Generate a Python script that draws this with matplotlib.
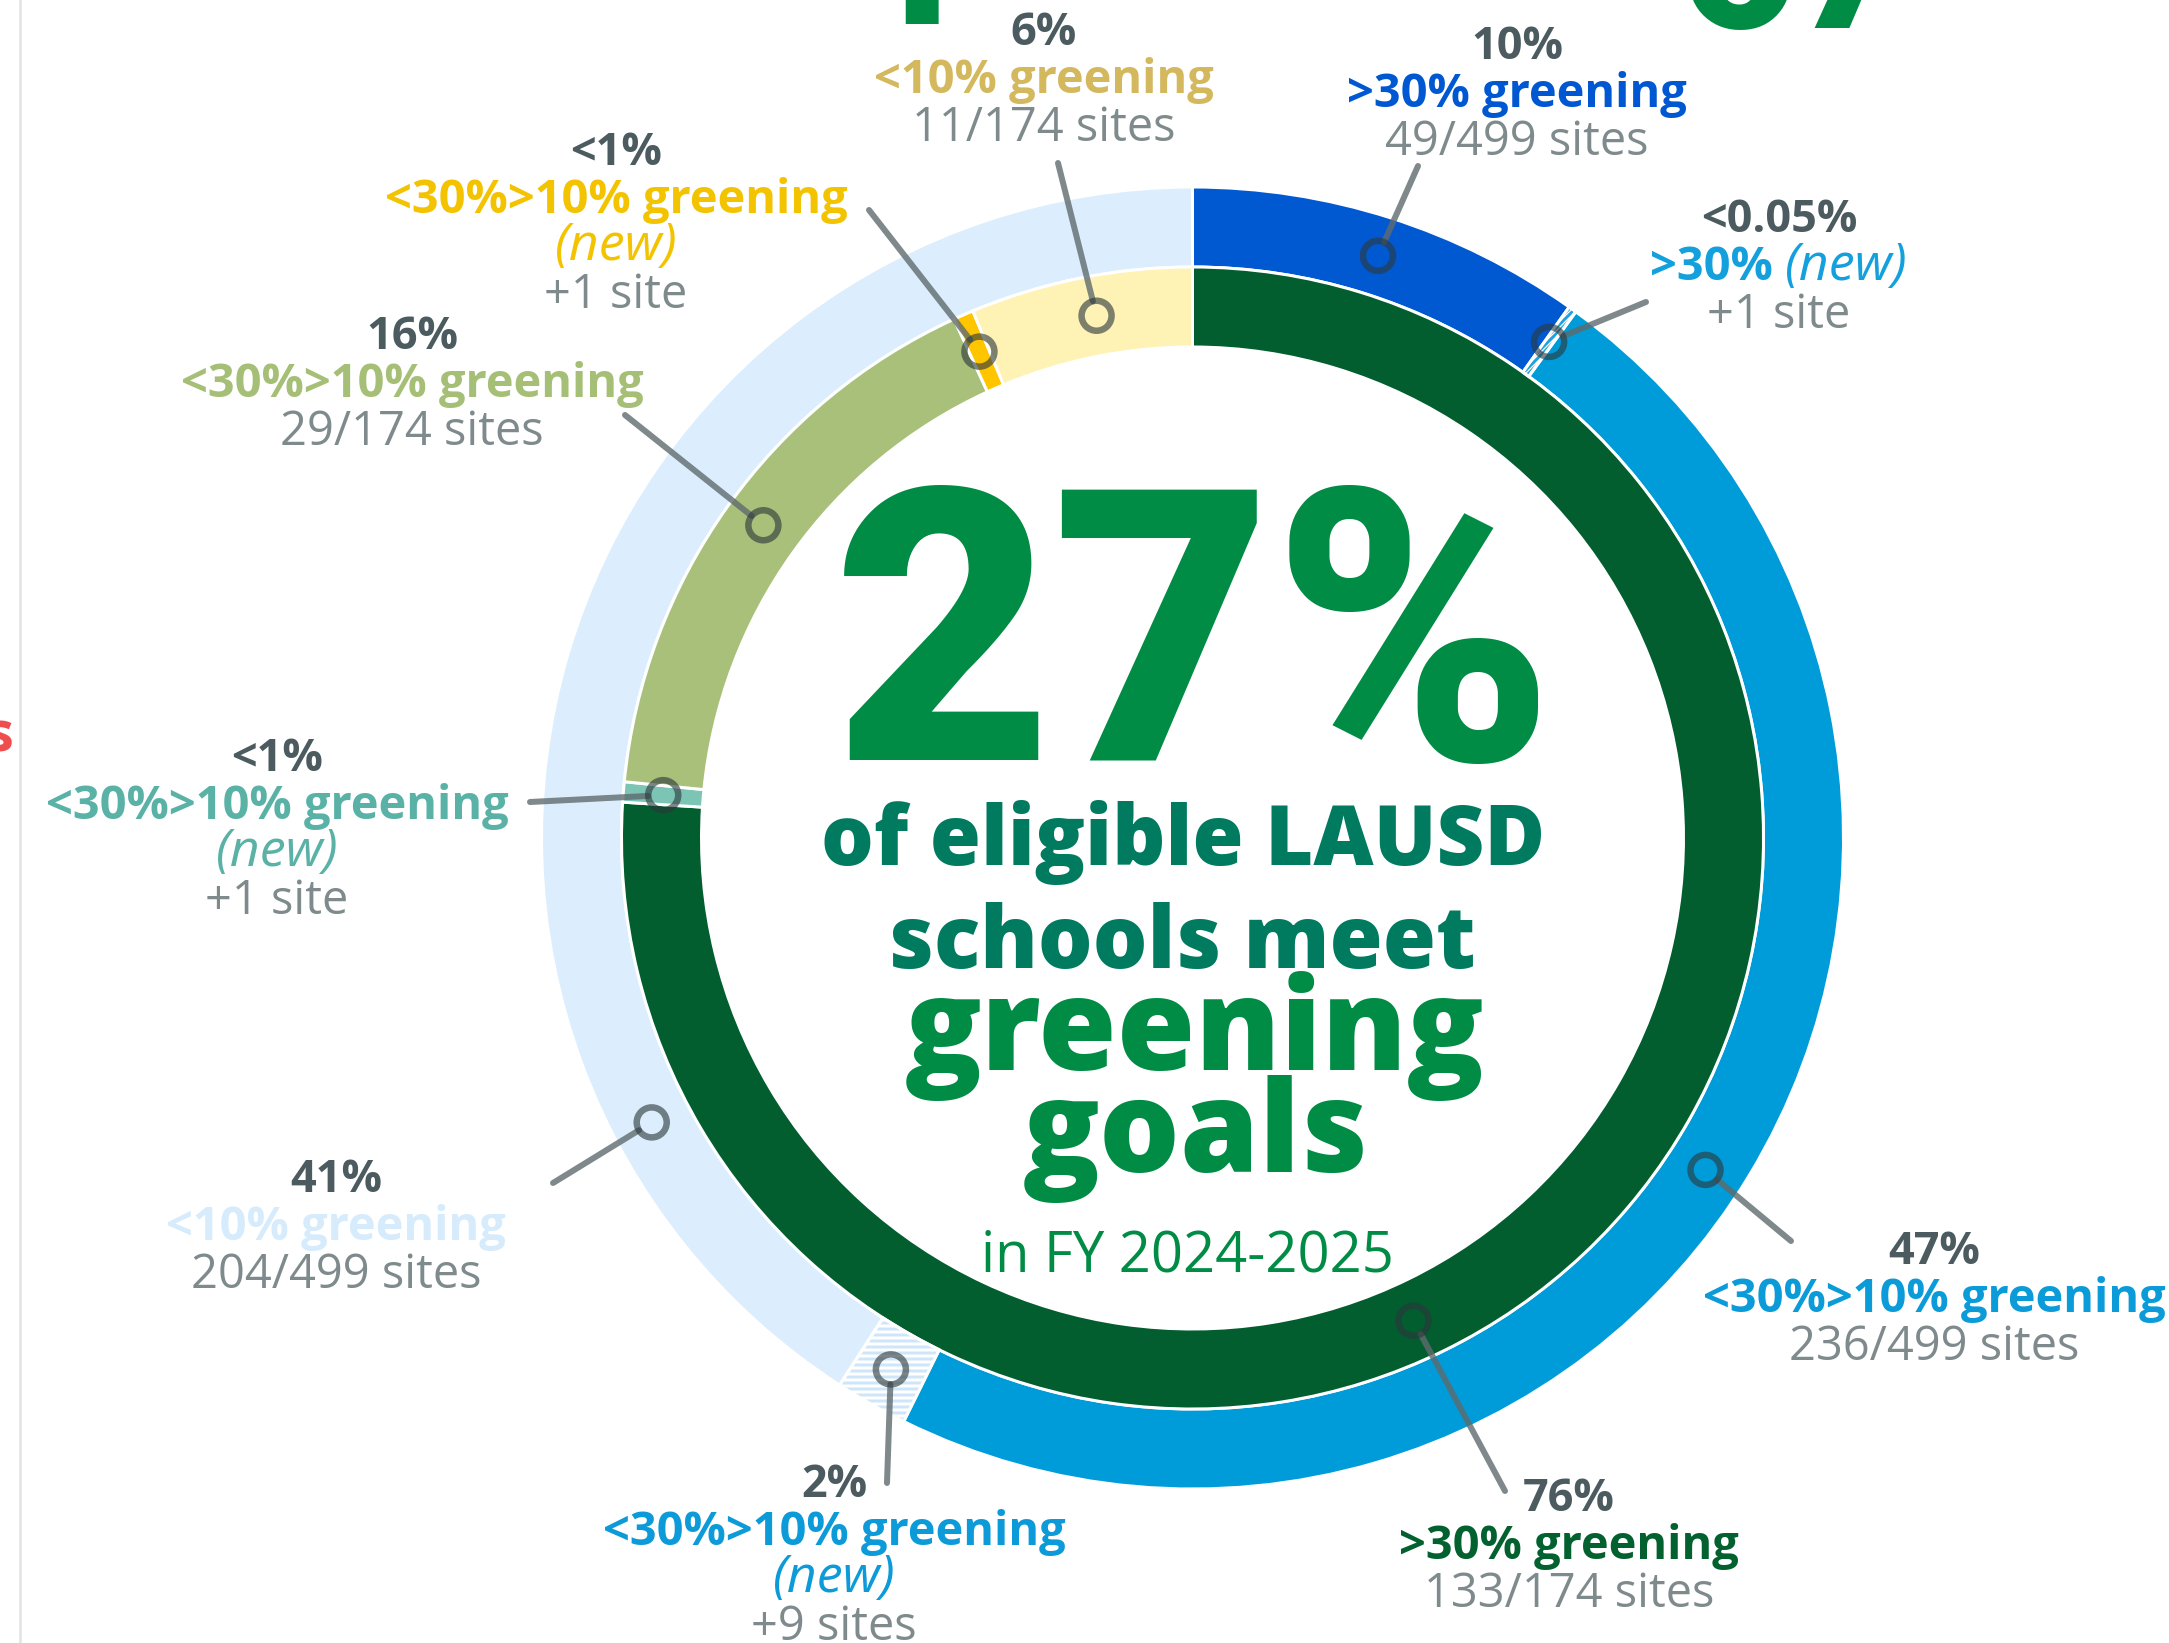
import numpy as np
import matplotlib
import matplotlib.pyplot as plt
from matplotlib.patches import Wedge, Circle

W, H = 2169, 1643
DPI = 72

# ring data (sites), clockwise from 12 o'clock
inner_sites = [133, 1, 29, 1, 11]   # 174 sites
outer_sites = [49, 1, 236, 9, 204]  # 499 sites
inner_colors = ['#025D2F', '#7CC5B4', '#A9C07A', '#FFC600', '#FFF2B5']
outer_colors = ['#0059D1', 'white', '#009CDA', 'white', '#DCEEFD']

# callout texts
label_ring = ['inner', 'outer', 'outer', 'inner', 'inner', 'inner', 'outer', 'outer', 'inner', 'outer']
label_idx = [4, 0, 1, 3, 2, 1, 4, 3, 0, 2]
label_pct = ['6%', '10%', '<0.05%', '<1%', '16%', '<1%', '41%', '2%', '76%', '47%']
label_cat = ['<10% greening', '>30% greening', '>30%', '<30%>10% greening',
             '<30%>10% greening', '<30%>10% greening', '<10% greening',
             '<30%>10% greening', '>30% greening', '<30%>10% greening']
label_new = ['', '', 'inline', 'line', '', 'line', '', 'line', '', '']
label_count = ['11/174 sites', '49/499 sites', '+1 site', '+1 site', '29/174 sites',
               '+1 site', '204/499 sites', '+9 sites', '133/174 sites', '236/499 sites']
label_color = ['#D4B85E', '#0057D2', '#13A0DC', '#F4C300', '#A6BF76',
               '#5AB2A7', '#D6EBFC', '#0C9BD8', '#02612F', '#0B9BD8']

# layout of the callouts (pixel coords, y down)
lab_x = [1044, 1517, 1779, 616, 412, 277, 336, 834, 1569, 1934]
lab_y = [45, 59, 232, 165, 349, 771, 1192, 1497, 1511, 1264]
lead_xy = [(1058, 163), (1418, 166), (1646, 302), (869, 210), (625, 415),
           (530, 802), (553, 1183), (887, 1483), (1505, 1491), (1791, 1241)]
mark_frac = [0.54, 0.5, 0.5, 0.5, 0.51, 0.5, 0.2, 0.5, 0.568, 0.51]

PCT_C = '#4B5B5F'
CNT_C = '#7F8A8C'
GREEN = '#008C45'
TEAL_G = '#007B5F'
FONT = ['Open Sans', 'DejaVu Sans']
plt.rcParams['font.family'] = FONT
plt.rcParams['hatch.linewidth'] = 3

fig = plt.figure(figsize=(W / DPI, H / DPI), dpi=DPI)
ax = fig.add_axes([0, 0, 1, 1])

cx, cy = 1192.5, 838
R_OUT, R_IN, RW = 651, 571, 80
w_out, _ = ax.pie(outer_sites, radius=R_OUT, center=(cx, cy), startangle=-90,
                  counterclock=True, colors=outer_colors,
                  wedgeprops=dict(width=RW, edgecolor='white', linewidth=3))
w_in, _ = ax.pie(inner_sites, radius=R_IN, center=(cx, cy), startangle=-90,
                 counterclock=True, colors=inner_colors,
                 wedgeprops=dict(width=RW, edgecolor='white', linewidth=3))

for i, (hc, hp) in {1: ('#1EA3DE', '////'), 3: ('#CFE6FA', '--')}.items():
    wd = w_out[i]
    wd.set_facecolor('white')
    wd.set_edgecolor(hc)
    wd.set_hatch(hp)
    wd.set_linewidth(0)
    ax.add_patch(Wedge(wd.center, wd.r, wd.theta1, wd.theta2, width=wd.width,
                       fill=False, edgecolor='white', linewidth=3))

ax.set_xlim(0, W)
ax.set_ylim(H, 0)
ax.set_aspect('auto')
ax.axis('off')


def ring_angles(vals):
    c = np.concatenate([[0], np.cumsum(vals)]) / np.sum(vals) * 360
    return c[:-1], c[1:]


angles = {'inner': ring_angles(inner_sites), 'outer': ring_angles(outer_sites)}
mid_r = {'inner': R_IN - RW / 2, 'outer': R_OUT - RW / 2}

renderer = fig.canvas.get_renderer()


def text_line(x, y, parts, gap=12):
    # several styled pieces on one baseline, centred on x
    ts = [ax.text(0, y, s, ha='left', va='baseline', **kw) for s, kw in parts]
    ws = [t.get_window_extent(renderer).width for t in ts]
    left = x - (sum(ws) + gap * (len(ws) - 1)) / 2
    for t, w in zip(ts, ws):
        t.set_x(left)
        left += w + gap


MR = 15
for k in range(len(label_pct)):
    a0, a1 = angles[label_ring[k]]
    i = label_idx[k]
    phi = np.radians(a0[i] + mark_frac[k] * (a1[i] - a0[i]))
    r = mid_r[label_ring[k]]
    mx, my = cx + r * np.sin(phi), cy - r * np.cos(phi)
    lx, ly = lead_xy[k]
    d = np.hypot(mx - lx, my - ly)
    ex, ey = mx - (mx - lx) / d * MR, my - (my - ly) / d * MR
    ax.plot([lx, ex], [ly, ey], color='#5F6B6E', alpha=0.8, lw=6,
            solid_capstyle='round', zorder=5)
    ax.add_patch(Circle((mx, my), MR, fill=False, edgecolor='#2C393C',
                        alpha=0.62, lw=6.5, zorder=6))

    x, y = lab_x[k], lab_y[k]
    col = label_color[k]
    bold = dict(fontsize=47, fontweight='bold', color=col)
    ital = dict(fontsize=52, fontstyle='italic', fontweight='normal', color=col)
    ax.text(x, y, label_pct[k], ha='center', va='baseline', fontsize=45,
            fontweight='bold', color=PCT_C)
    y += 48
    if label_new[k] == 'inline':
        text_line(x, y, [(label_cat[k], bold), ('(new)', ital)])
    else:
        ax.text(x, y, label_cat[k], ha='center', va='baseline', **bold)
    if label_new[k] == 'line':
        y += 47
        ax.text(x, y, '(new)', ha='center', va='baseline', **ital)
    y += 48
    ax.text(x, y, label_count[k], ha='center', va='baseline', fontsize=47,
            color=CNT_C)

# centre headline
ax.text(1194, 760, '27%', ha='center', va='baseline', fontsize=380,
        fontweight='black', color=GREEN, family=['Roboto', 'DejaVu Sans'])
ax.text(1183, 865, 'of eligible LAUSD', ha='center', va='baseline', fontsize=83,
        fontweight='extra bold', color=TEAL_G)
ax.text(1182, 968, 'schools meet', ha='center', va='baseline', fontsize=86,
        fontweight='extra bold', color=TEAL_G)
ax.text(1195, 1070, 'greening', ha='center', va='baseline', fontsize=127,
        fontweight='extra bold', color=GREEN)
ax.text(1196, 1172, 'goals', ha='center', va='baseline', fontsize=127,
        fontweight='extra bold', color=GREEN)
ax.text(1187, 1272, 'in FY 2024-2025', ha='center', va='baseline', fontsize=56,
        color=GREEN)

# pieces of neighbouring panels cut by the frame
ax.text(915, 24, '1', ha='center', va='baseline', fontsize=200,
        fontweight='black', color=GREEN, family=['Roboto', 'DejaVu Sans'])
ax.text(1680, 28, '67', ha='left', va='baseline', fontsize=200,
        fontweight='black', color=GREEN, family=['Roboto', 'DejaVu Sans'])
ax.text(-14, 752, 's', ha='left', va='baseline', fontsize=56,
        fontweight='bold', color='#F04E4E')
ax.axvline(20, color='#E3E3E6', lw=2.5)

fig.savefig('out.png', dpi=DPI)
